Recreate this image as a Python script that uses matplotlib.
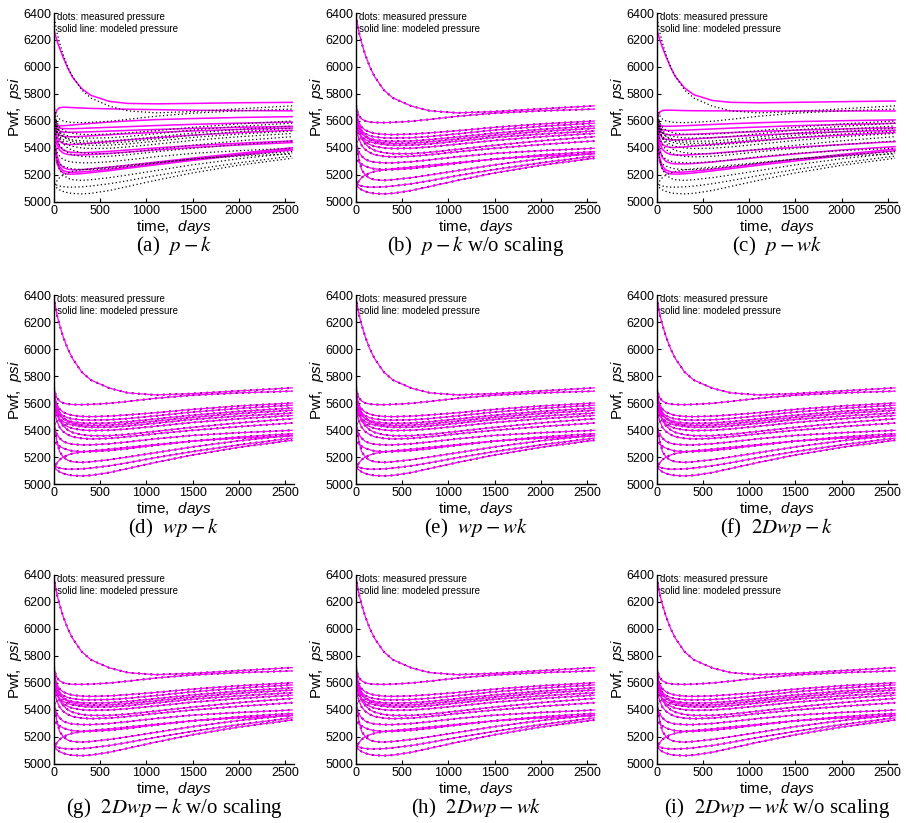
import numpy as np
import matplotlib
matplotlib.use('Agg')
import matplotlib.pyplot as plt

# sampling times (days)
t = [0, 10, 30, 60, 100, 150, 200, 300, 400, 600, 800, 1100, 1500, 2000, 2580]

# measured bottom-hole pressure of each well (psi)
measured = [
    [6390, 6340, 6260, 6180, 6090, 6000, 5930, 5830, 5770, 5710, 5675, 5660, 5670, 5690, 5712],
    [5720, 5680, 5640, 5615, 5600, 5592, 5589, 5588, 5590, 5598, 5612, 5635, 5658, 5675, 5688],
    [5690, 5640, 5590, 5555, 5532, 5518, 5509, 5501, 5499, 5503, 5512, 5528, 5553, 5578, 5600],
    [5620, 5595, 5560, 5528, 5505, 5490, 5482, 5475, 5473, 5476, 5485, 5505, 5533, 5560, 5584],
    [5590, 5575, 5545, 5510, 5485, 5470, 5460, 5452, 5450, 5452, 5462, 5482, 5510, 5538, 5563],
    [5700, 5640, 5575, 5520, 5485, 5462, 5450, 5438, 5434, 5436, 5446, 5466, 5494, 5522, 5546],
    [5550, 5540, 5515, 5485, 5462, 5446, 5436, 5425, 5420, 5421, 5430, 5450, 5478, 5503, 5526],
    [5600, 5570, 5520, 5475, 5445, 5425, 5412, 5400, 5396, 5398, 5408, 5428, 5456, 5483, 5508],
    [5660, 5600, 5530, 5470, 5430, 5400, 5382, 5365, 5358, 5358, 5368, 5390, 5420, 5453, 5484],
    [5560, 5520, 5470, 5420, 5388, 5365, 5350, 5338, 5334, 5338, 5350, 5372, 5398, 5425, 5452],
    [5420, 5400, 5370, 5340, 5315, 5302, 5295, 5290, 5290, 5298, 5312, 5335, 5360, 5380, 5398],
    [5310, 5305, 5295, 5280, 5265, 5253, 5245, 5240, 5240, 5248, 5262, 5287, 5318, 5348, 5373],
    [5100, 5125, 5155, 5180, 5200, 5215, 5226, 5238, 5246, 5258, 5272, 5292, 5318, 5340, 5356],
    [5500, 5420, 5320, 5240, 5200, 5175, 5165, 5160, 5165, 5180, 5200, 5232, 5275, 5320, 5362],
    [5150, 5140, 5125, 5118, 5113, 5110, 5110, 5112, 5118, 5135, 5158, 5195, 5240, 5290, 5340],
    [5130, 5120, 5105, 5090, 5078, 5068, 5063, 5060, 5064, 5085, 5115, 5160, 5215, 5272, 5324],
]

# modeled pressure, case (a) p-k
model_a = [
    [6270, 6250, 6200, 6140, 6070, 5990, 5925, 5840, 5790, 5745, 5730, 5727, 5730, 5735, 5738],
    [5600, 5640, 5680, 5698, 5702, 5701, 5699, 5696, 5693, 5690, 5687, 5684, 5680, 5677, 5675],
    [5600, 5585, 5570, 5565, 5565, 5567, 5570, 5576, 5582, 5592, 5600, 5610, 5618, 5626, 5632],
    [5610, 5585, 5560, 5548, 5544, 5543, 5543, 5545, 5548, 5553, 5558, 5566, 5575, 5584, 5592],
    [5630, 5590, 5545, 5525, 5518, 5516, 5516, 5518, 5520, 5525, 5530, 5537, 5545, 5553, 5560],
    [5640, 5580, 5520, 5495, 5486, 5483, 5483, 5486, 5490, 5498, 5506, 5515, 5526, 5537, 5548],
    [5650, 5570, 5490, 5450, 5432, 5426, 5426, 5430, 5436, 5448, 5460, 5476, 5495, 5514, 5532],
    [5600, 5540, 5460, 5410, 5385, 5372, 5367, 5365, 5367, 5375, 5385, 5400, 5418, 5435, 5452],
    [5580, 5510, 5430, 5385, 5362, 5352, 5348, 5348, 5351, 5360, 5370, 5385, 5403, 5422, 5440],
    [5560, 5460, 5350, 5285, 5255, 5242, 5238, 5240, 5245, 5258, 5272, 5295, 5325, 5360, 5402],
    [5540, 5430, 5320, 5260, 5232, 5222, 5220, 5223, 5228, 5242, 5258, 5283, 5315, 5352, 5392],
    [5520, 5400, 5290, 5240, 5215, 5207, 5206, 5210, 5217, 5232, 5250, 5275, 5308, 5345, 5385],
]

# modeled pressure, case (c) p-wk
model_c = [
    [6280, 6255, 6205, 6145, 6075, 5995, 5930, 5845, 5795, 5752, 5738, 5735, 5738, 5743, 5748],
    [5600, 5630, 5665, 5678, 5680, 5680, 5679, 5677, 5676, 5675, 5675, 5674, 5674, 5674, 5674],
    [5600, 5585, 5570, 5563, 5561, 5561, 5562, 5565, 5568, 5574, 5580, 5587, 5595, 5602, 5608],
    [5610, 5580, 5550, 5535, 5530, 5529, 5530, 5532, 5535, 5541, 5547, 5555, 5565, 5574, 5583],
    [5630, 5585, 5535, 5510, 5500, 5497, 5497, 5499, 5502, 5508, 5514, 5522, 5532, 5541, 5550],
    [5640, 5575, 5505, 5475, 5464, 5460, 5460, 5463, 5467, 5476, 5484, 5495, 5508, 5520, 5532],
    [5650, 5560, 5470, 5428, 5410, 5404, 5404, 5408, 5414, 5426, 5438, 5455, 5475, 5495, 5515],
    [5600, 5530, 5440, 5390, 5365, 5352, 5348, 5348, 5351, 5360, 5371, 5387, 5405, 5425, 5447],
    [5580, 5490, 5390, 5330, 5300, 5287, 5282, 5282, 5285, 5296, 5310, 5330, 5356, 5385, 5410],
    [5560, 5450, 5330, 5265, 5236, 5224, 5220, 5222, 5228, 5242, 5258, 5283, 5315, 5352, 5392],
    [5540, 5420, 5300, 5245, 5218, 5208, 5206, 5209, 5215, 5230, 5247, 5272, 5304, 5342, 5380],
]

captions = [
    r'(a)  $p-k$',
    r'(b)  $p-k$ w/o scaling',
    r'(c)  $p-wk$',
    r'(d)  $wp-k$',
    r'(e)  $wp-wk$',
    r'(f)  $2Dwp-k$',
    r'(g)  $2Dwp-k$ w/o scaling',
    r'(h)  $2Dwp-wk$',
    r'(i)  $2Dwp-wk$ w/o scaling',
]

# which model goes in which panel (None -> model follows the data)
models = [model_a, None, model_c, None, None, None, None, None, None]

plt.rcParams['font.family'] = ['Liberation Sans', 'DejaVu Sans']
plt.rcParams['mathtext.fontset'] = 'custom'
plt.rcParams['mathtext.rm'] = 'Liberation Sans'
plt.rcParams['mathtext.it'] = 'Liberation Sans:italic'

fig = plt.figure(figsize=(9.06, 8.23), dpi=100)

lefts = [0.0596, 0.393, 0.725]
bottoms = [0.7546, 0.4119, 0.072]
w, h = 0.265, 0.2296

for k in range(9):
    r, c = divmod(k, 3)
    ax = fig.add_axes([lefts[c], bottoms[r], w, h])
    model = models[k]
    if model is None:
        for p in measured:
            ax.plot(t, p, color='k', lw=1.4, dashes=(1, 2.2))
        for p in measured:
            ax.plot(t, p, color='#ff00ff', lw=0.9)
    else:
        for p in model:
            ax.plot(t, p, color='#ff00ff', lw=1.1)
        for p in measured:
            ax.plot(t, p, color='k', lw=0.9, dashes=(1, 2.0))

    ax.set_xlim(0, 2600)
    ax.set_ylim(5000, 6400)
    ax.set_xticks([0, 500, 1000, 1500, 2000, 2500])
    ax.set_yticks(np.arange(5000, 6401, 200))
    for s in ['top', 'right']:
        ax.spines[s].set_visible(False)
    ax.spines['left'].set_linewidth(1.0)
    ax.spines['bottom'].set_linewidth(1.0)
    ax.tick_params(direction='in', length=3, width=0.8, labelsize=9, pad=2)

    ax.set_xlabel(r'time,  $\mathit{days}$', fontsize=11)
    ax.set_ylabel(r'Pwf,  $\mathit{psi}$', fontsize=11)
    ax.xaxis.set_label_coords(0.5, -0.085)
    ax.yaxis.set_label_coords(-0.125, 0.5)

    ax.text(0.012, 0.979, 'dots: measured pressure', transform=ax.transAxes,
            fontsize=7, ha='left', va='center')
    ax.text(0.012, 0.915, 'solid line: modeled pressure', transform=ax.transAxes,
            fontsize=7, ha='left', va='center')

    ax.text(0.5, -0.235, captions[k], transform=ax.transAxes, ha='center', va='center',
            fontsize=15, family=['Liberation Serif', 'DejaVu Serif'], math_fontfamily='stix')

fig.savefig('out.png', dpi=100)
